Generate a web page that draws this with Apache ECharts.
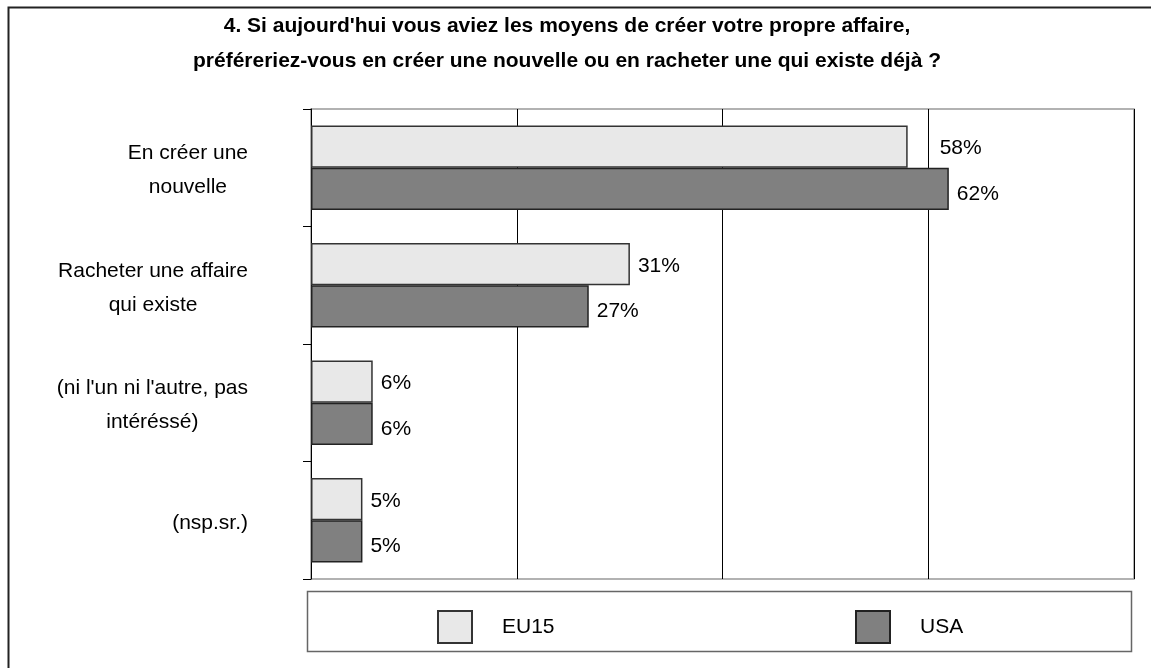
<!DOCTYPE html>
<html>
<head>
<meta charset="utf-8">
<script src="https://cdn.jsdelivr.net/npm/echarts@6/dist/echarts.min.js"></script>
<style>
  html, body { margin: 0; padding: 0; background: #fff; }
  #chart { width: 1151px; height: 668px; }
</style>
</head>
<body>
<div id="chart"></div>
<script>
  var categories = [
    'En créer une\nnouvelle',
    'Racheter une affaire\nqui existe',
    "(ni l'un ni l'autre, pas\nintéréssé)",
    '(nsp.sr.)'
  ]
  var eu15Values = [58, 31, 6, 5]
  var usaValues = [62, 27, 6, 5]
  var seriesNames = ['EU15', 'USA']
  var xTicks = { min: 0, max: 80, interval: 20 }

  var font = "'Liberation Sans', Arial, sans-serif"

  var chart = echarts.init(document.getElementById('chart'))

  // first label sits further right in the original (clears the gridline)
  var eu15Data = eu15Values.map(function(v, i) {
    return i === 0 ? { value: v, label: { distance: 32 } } : v
  })

  chart.setOption({
    animation: false,
    title: {
      text: "4. Si aujourd'hui vous aviez les moyens de créer votre propre affaire,\npréféreriez-vous en créer une nouvelle ou en racheter une qui existe déjà ?",
      left: 562,
      textAlign: 'center',
      top: 4,
      textStyle: {
        fontFamily: font,
        fontSize: 21,
        fontWeight: 'bold',
        color: '#000',
        lineHeight: 35
      }
    },
    graphic: [
      {
        type: 'rect',
        shape: { x: 8.5, y: 7.5, width: 1160, height: 680 },
        style: { fill: 'none', stroke: '#222', lineWidth: 2 },
        silent: true
      },
      {
        type: 'rect',
        shape: { x: 307.5, y: 591.5, width: 824, height: 60 },
        style: { fill: 'none', stroke: '#666', lineWidth: 1.5 },
        silent: true
      }
    ],
    legend: [
      {
        data: [seriesNames[0]],
        left: 432,
        top: 605,
        itemWidth: 34,
        itemHeight: 32,
        icon: 'rect',
        textStyle: { fontFamily: font, fontSize: 21, color: '#000', padding: [0, 0, 0, 25] }
      },
      {
        data: [seriesNames[1]],
        left: 850,
        top: 605,
        itemWidth: 34,
        itemHeight: 32,
        icon: 'rect',
        textStyle: { fontFamily: font, fontSize: 21, color: '#000', padding: [0, 0, 0, 25] }
      }
    ],
    grid: {
      left: 311,
      right: 17,
      top: 109,
      bottom: 89,
      show: true,
      borderColor: '#999',
      borderWidth: 1.5
    },
    xAxis: {
      type: 'value',
      min: xTicks.min,
      max: xTicks.max,
      interval: xTicks.interval,
      axisLabel: { show: false },
      axisLine: { show: false },
      axisTick: { show: false },
      splitLine: { show: true, lineStyle: { color: '#000', width: 1 } }
    },
    yAxis: {
      type: 'category',
      inverse: true,
      data: categories,
      axisLine: { show: true, lineStyle: { color: '#000', width: 1 } },
      axisTick: { show: true, length: 8, lineStyle: { color: '#000' } },
      axisLabel: {
        margin: 63,
        padding: [5, 0, 0, 0],
        formatter: function(val) {
          return val.split('\n').map(function(l) { return '{c|' + l + '}' }).join('\n')
        },
        rich: {
          c: {
            align: 'center',
            fontFamily: font,
            fontSize: 21,
            lineHeight: 34,
            color: '#000'
          }
        }
      }
    },
    series: [
      {
        name: seriesNames[0],
        type: 'bar',
        data: eu15Data,
        barGap: '0%',
        barCategoryGap: '28%',
        itemStyle: { color: '#e8e8e8', borderColor: '#333', borderWidth: 1.5 },
        label: {
          show: true,
          position: 'right',
          distance: 8,
          offset: [0, 2],
          formatter: '{c}%',
          fontFamily: font,
          fontSize: 21,
          color: '#000'
        }
      },
      {
        name: seriesNames[1],
        type: 'bar',
        data: usaValues,
        barGap: '0%',
        barCategoryGap: '28%',
        itemStyle: { color: '#808080', borderColor: '#222', borderWidth: 1.5 },
        label: {
          show: true,
          position: 'right',
          distance: 8,
          offset: [0, 5],
          formatter: '{c}%',
          fontFamily: font,
          fontSize: 21,
          color: '#000'
        }
      }
    ]
  })
</script>
</body>
</html>
